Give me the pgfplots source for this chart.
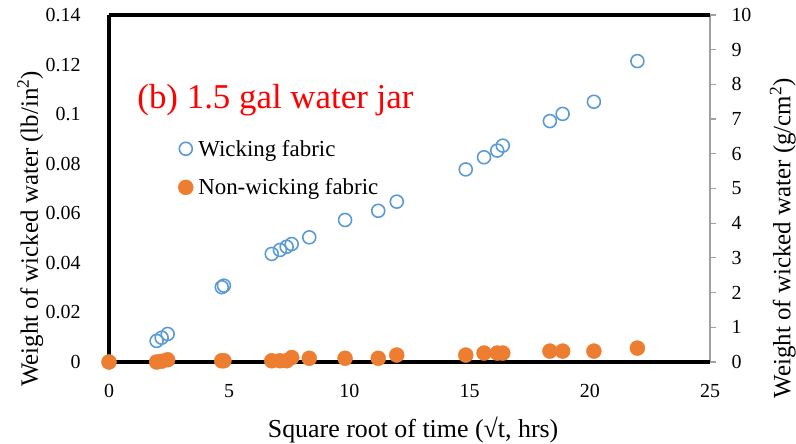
\documentclass[border=0pt]{standalone}
\usepackage{fontspec}
\setmainfont{Liberation Serif}
\usepackage{pgfplots}
\pgfplotsset{compat=1.18}
\definecolor{wblue}{HTML}{5B9BD5}
\definecolor{worange}{HTML}{ED7D31}
\definecolor{axgray}{HTML}{A0A0A0}
\pgfplotstableread{
x y
0 0
1.98 0.0085
2.19 0.0098
2.44 0.0113
4.69 0.0302
4.78 0.0308
6.77 0.0436
7.11 0.0452
7.39 0.0465
7.60 0.0476
8.33 0.0503
9.82 0.0573
11.20 0.0610
11.97 0.0647
14.84 0.0777
15.60 0.0826
16.15 0.0853
16.38 0.0873
18.34 0.0972
18.87 0.1001
20.17 0.1050
21.98 0.1214
}\wicking
\pgfplotstableread{
x y
0 0
1.98 0.0000
2.19 0.0003
2.44 0.0009
4.69 0.0005
4.78 0.0005
6.77 0.0005
7.11 0.0005
7.39 0.0005
7.60 0.0018
8.33 0.0015
9.82 0.0015
11.20 0.0015
11.97 0.0028
14.84 0.0028
15.60 0.0036
16.15 0.0036
16.38 0.0036
18.34 0.0044
18.87 0.0044
20.17 0.0044
21.98 0.0056
}\nonwicking
\begin{document}
\begin{tikzpicture}
\pgfplotsset{every axis/.append style={scale only axis, width=601bp, height=347bp, xmin=0, xmax=25, clip=false,
  /pgf/number format/assume math mode=true}}
% right axis
\begin{axis}[
  axis x line=none, axis y line*=right,
  ymin=0, ymax=10, ytick={0,1,...,10},
  y axis line style={draw=axgray, line width=1.5bp},
  ytick style={draw=axgray, line width=1.2bp},
  tick align=outside, major tick length=6bp,
  yticklabel style={font=\fontsize{20}{24}\selectfont, xshift=12bp},
  ylabel={Weight of wicked water (g/cm\textsuperscript{2})},
  ylabel style={font=\fontsize{25}{30}\selectfont, at={(rel axis cs:1.121,0.357)}, anchor=center},
]
\end{axis}
% main axis
\begin{axis}[
  axis x line*=box, axis y line*=left,
  axis line style={black, line width=4bp, -},
  ymin=0, ymax=0.14, ytick={0,0.02,...,0.14},
  xtick={0,5,...,25},
  major tick length=0pt,
  /pgf/number format/fixed, /pgf/number format/precision=2,
  yticklabel style={font=\fontsize{20}{24}\selectfont, xshift=-25bp},
  xticklabel style={font=\fontsize{20}{24}\selectfont, yshift=-19bp},
  xlabel={Square root of time (√t, hrs)},
  xlabel style={font=\fontsize{26}{30}\selectfont, at={(rel axis cs:0.506,-0.196)}, anchor=center},
  ylabel={Weight of wicked water (lb/in\textsuperscript{2})},
  ylabel style={font=\fontsize{25}{30}\selectfont, at={(rel axis cs:-0.131,0.384)}, anchor=center},
  legend style={draw=none, fill=none, at={(rel axis cs:0.11,0.652)}, anchor=north west,
    font=\fontsize{23}{27}\selectfont, row sep=17bp,
    /tikz/every odd column/.append style={column sep=3bp}},
  legend cell align=left,
  legend image code/.code={\draw[mark repeat=2,mark phase=2,#1] plot coordinates {(0bp,0bp)(7bp,0bp)(14bp,0bp)};},
]
\addplot[only marks, mark=o, mark size=6.5bp, mark options={draw=wblue, line width=1.6bp}] table {\wicking};
\addlegendentry{Wicking fabric}
\addplot[only marks, mark=*, mark size=7.5bp, mark options={draw=worange, fill=worange}] table {\nonwicking};
\addlegendentry{Non-wicking fabric}
\node[anchor=west, text=red, font=\fontsize{35}{40}\selectfont, inner sep=0pt] at (rel axis cs:0.047,0.755) {(b) 1.5 gal water jar};
\end{axis}
\pgfresetboundingbox
\useasboundingbox (-109bp,-82bp) rectangle (687bp,362bp);
\end{tikzpicture}
\end{document}
